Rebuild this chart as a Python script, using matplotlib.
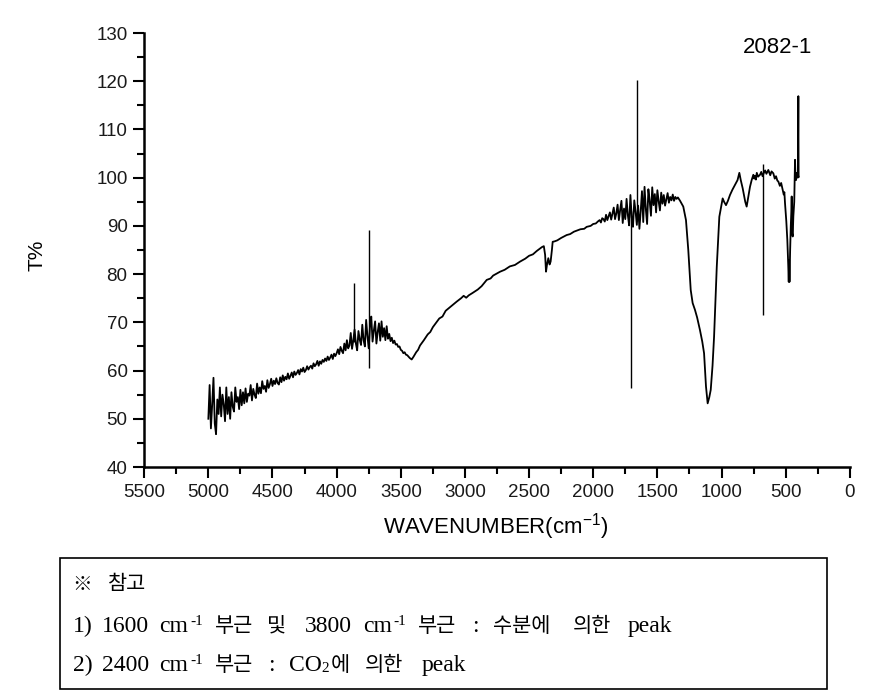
import numpy as np
import matplotlib
matplotlib.use('Agg')
import matplotlib.pyplot as plt
from matplotlib.ticker import MultipleLocator
from matplotlib.patches import Rectangle

plt.rcParams['font.family'] = ['Liberation Sans', 'DejaVu Sans']
plt.rcParams['mathtext.fontset'] = 'custom'
plt.rcParams['mathtext.rm'] = 'Liberation Sans'
plt.rcParams['mathtext.it'] = 'Liberation Sans:italic'
plt.rcParams['mathtext.bf'] = 'Liberation Sans:bold'

# ---------------- data ----------------
# noisy part 5000 -> 3460 cm-1, sampled every 10 cm-1
segA_start, segA_stop, segA_step = 5000, 3455, -10
segA_T = [
    50, 57, 48, 53, 58.5, 49, 46.8, 54, 51, 56.5,
    50.5, 55, 53, 49.5, 56.5, 51, 54.5, 50, 55.5, 52.5,
    51.5, 56.5, 53.5, 54.5, 52, 56, 52.8, 55.5, 53.2, 56.3,
    53.5, 55.2, 54.8, 57, 53.8, 56.2, 55, 54.3, 57.3, 55.2,
    56.5, 55.3, 57.8, 56.2, 56.8, 55.6, 58, 56.4, 57.2, 58.3,
    56.8, 57.9, 57.2, 58.4, 57.4, 57.1, 58.6, 57.6, 59, 57.9,
    58.7, 58.2, 59.4, 58.3, 58.9, 59.6, 58.6, 59.8, 59.1, 59.5,
    60.1, 59.2, 60.3, 59.8, 60.6, 59.7, 60.1, 60.9, 60.2, 60.7,
    61, 60.4, 61.5, 60.9, 61.3, 62, 61, 61.9, 61.4, 62.2,
    61.8, 62.5, 62, 62.9, 62.2, 62.7, 63.3, 62.4, 63.5, 63,
    63.6, 64.4, 63.4, 64.9, 64.1, 63.6, 65.6, 64.2, 66.3, 64.6,
    65.2, 67.8, 64.5, 66.3, 68.5, 65.6, 64.2, 68.2, 66.4, 65.3,
    69.5, 66.3, 65, 70.5, 67.2, 64.6, 69.2, 71.2, 66, 68.3,
    70.2, 65.6, 68, 69.8, 66.2, 70.2, 67, 68.8, 66.3, 69.2,
    66.6, 67.6, 66.1, 66.8, 65.7, 66.2, 65.4, 65.5, 64.9, 65,
    64.3, 64.1, 63.6, 63.8, 63.3,
]

# smooth part 3450 -> 1960 cm-1
segB_wn = [3450, 3430, 3415, 3400, 3380, 3365, 3350, 3320, 3290, 3270, 3250,
           3200, 3175, 3150, 3100, 3064, 3030, 3010, 2990, 2970, 2940, 2900,
           2870, 2830, 2800, 2780, 2726, 2690, 2650, 2610, 2570, 2530, 2500,
           2470, 2440, 2400, 2385, 2375, 2368, 2360, 2350, 2340, 2332, 2322,
           2316, 2300, 2280, 2250, 2207, 2180, 2150, 2100, 2070, 2051, 2020,
           2000, 1980, 1960]
segB_T = [63.2, 62.6, 62.3, 62.9, 63.8, 64.3, 65.2, 66.3, 67.5, 68.0, 69.0,
          70.8, 71.2, 72.4, 73.5, 74.3, 75.0, 75.5, 75.1, 75.6, 76.1, 76.8,
          77.5, 78.8, 79.1, 79.7, 80.5, 80.9, 81.6, 81.9, 82.6, 83.2, 83.8,
          84.1, 84.8, 85.6, 85.8, 84.0, 80.5, 82.0, 83.3, 82.0, 82.6, 85.0,
          86.7, 86.8, 87.0, 87.5, 88.1, 88.3, 88.8, 89.3, 89.4, 89.8, 90.0,
          90.4, 90.5, 91.0]

# noisy part 1950 -> 1330 cm-1, sampled every 10 cm-1
segC_start, segC_stop, segC_step = 1950, 1325, -10
segC_T = [
    91.2, 90.7, 91.6, 91.4, 90.9, 92.3, 91.2, 92.0, 92.8, 91.3,
    92.5, 93.8, 91.4, 92.6, 94.4, 91.2, 93.3, 95.2, 90.6, 93.6,
    91.4, 95.6, 92.2, 90.1, 96.4, 91.8, 89.8, 95.3, 93.0, 90.2,
    94.2, 89.4, 93.0, 97.2, 90.8, 98.1, 93.5, 90.4, 97.6, 95.2,
    92.1, 98.0, 94.3, 96.6, 92.8, 97.4, 95.1, 93.2, 96.9, 94.6,
    96.4, 94.2, 95.5, 96.8, 94.8, 96.0, 95.3, 96.5, 95.2, 96.0,
    95.6, 95.9, 95.5,
]

# fingerprint part 1323 -> 397 cm-1
segD_wn = [1323, 1298, 1277, 1259, 1240, 1225, 1207, 1190, 1168, 1150, 1136,
           1121, 1108, 1095, 1084, 1070, 1058, 1037, 1017, 991, 980, 965, 950,
           934, 915, 895, 875, 861, 850, 835, 815, 804, 790, 778, 765, 752,
           745, 740, 732, 725, 715, 700, 690, 680, 670, 660, 650, 635, 620,
           610, 596, 585, 575, 565, 557, 545, 535, 523, 515, 510, 505, 495,
           487, 480, 476, 473, 470, 465, 460, 455, 453, 449, 445, 440, 433,
           427, 423, 419, 412, 405, 401, 399, 397]
segD_T = [95.2, 94.0, 91.2, 85.0, 76.7, 74.0, 72.6, 71.0, 68.4, 66.0, 63.6,
          56.7, 53.2, 54.5, 56.0, 61.0, 67.0, 81.5, 91.9, 95.7, 95.0, 94.3, 95.2,
          96.4, 97.5, 98.5, 99.5, 101.0, 99.5, 97.8, 95.0, 94.0, 96.2, 98.1, 99.5, 100.6,
          99.8, 100.4, 99.6, 101.0, 100.2, 100.6, 101.2, 100.3, 101.0, 101.5, 100.8, 101.6, 100.5,
          101.3, 100.9, 99.8, 100.3, 99.4, 99.2, 98.3, 98.9, 97.4, 96.5, 97.0, 94.7, 91.0,
          87.1, 82.0, 78.4, 82.9, 78.4, 85.0, 90.0, 93.5, 96.1, 88.5, 87.8, 92.0, 95.0,
          103.7, 99.5, 99.5, 101.0, 100.0, 116.9, 100.5, 100.2]

# sharp single-point spikes (water / artefact lines)
spike_wn = [3862, 3750, 1703, 1656, 674]
spike_lo = [66.0, 60.5, 56.4, 91.0, 71.5]
spike_hi = [78.1, 89.2, 93.0, 120.3, 102.8]

x_ticks = [5500, 5000, 4500, 4000, 3500, 3000, 2500, 2000, 1500, 1000, 500, 0]
y_ticks = [40, 50, 60, 70, 80, 90, 100, 110, 120, 130]

# ---------------- figure ----------------
W, H = 879, 698
fig = plt.figure(figsize=(W / 100, H / 100), dpi=100)
ax = fig.add_axes([144.2 / W, 1 - 467 / H, 705.6 / W, 434 / H])

wn = np.concatenate([np.arange(segA_start, segA_stop, segA_step), segB_wn,
                     np.arange(segC_start, segC_stop, segC_step), segD_wn])
T = np.concatenate([segA_T, segB_T, segC_T, segD_T])
ax.plot(wn, T, color='black', lw=1.3)
ax.vlines(spike_wn, spike_lo, spike_hi, color='black', lw=1.0)

ax.set_xlim(5500, 0)
ax.set_ylim(40, 130)
ax.set_xticks(x_ticks)
ax.set_yticks(y_ticks)
ax.xaxis.set_minor_locator(MultipleLocator(250))
ax.yaxis.set_minor_locator(MultipleLocator(5))
for s in ['top', 'right']:
    ax.spines[s].set_visible(False)
for s in ['left', 'bottom']:
    ax.spines[s].set_linewidth(1.8)
ax.tick_params(which='major', direction='out', length=8, width=1.5,
               labelsize=13.5, labelcolor='#1a1a1a', pad=4)
ax.tick_params(which='minor', direction='out', length=5, width=1.5)

ax.set_xlabel('WAVENUMBER(cm$^{-1}$)', fontsize=16, va='baseline')
ax.xaxis.set_label_coords((496 - 144.2) / 705.6, (467 - 533) / 434)
ax.set_ylabel('T%', fontsize=15, va='center', ha='center')
ax.yaxis.set_label_coords((37.5 - 144.2) / 705.6, (467 - 255) / 434)

ax.text((743.3 - 144.2) / 705.6, (467 - 52.7) / 434, '2082-1', transform=ax.transAxes,
        fontsize=16, ha='left', va='baseline')

# ---------------- note box ----------------
fig.patches.append(Rectangle((60 / W, 1 - 689 / H), 767 / W, 131 / H,
                             transform=fig.transFigure, fill=False,
                             edgecolor='black', lw=1.2))

SERIF = ['Liberation Serif', 'Noto Sans CJK KR', 'DejaVu Sans']
KR = ['Noto Sans CJK KR', 'Liberation Serif', 'DejaVu Sans']


def put(px, py, s, size=17, fam=SERIF):
    fig.text(px / W, 1 - py / H, s, ha='left', va='baseline',
             fontsize=size, family=fam, color='black')


# line 1
put(72.7, 590, '※', 14, KR)
put(108, 590, '참고', 15, KR)

# line 2
b2 = 631.7
put(72.7, b2, '1)')
put(101.7, b2, '1600')
put(159, b2, 'cm')
put(190, b2 - 6.5, '-1', 11)
put(215, b2, '부근', 15, KR)
put(267, b2, '및', 15, KR)
put(305, b2, '3800')
put(363, b2, 'cm')
put(393.5, b2 - 6.5, '-1', 11)
put(418, b2, '부근', 15, KR)
put(472, b2, ':')
put(493, b2, '수분에', 15, KR)
put(573, b2, '의한', 15, KR)
put(628, b2, 'peak')

# line 3
b3 = 670.7
put(72.7, b3, '2)')
put(101.7, b3, '2400')
put(159, b3, 'cm')
put(190, b3 - 6.5, '-1', 11)
put(215, b3, '부근', 15, KR)
put(268, b3, ':')
put(289, b3, 'CO')
put(321, b3 + 1.5, '2', 11)
put(330.5, b3, '에', 15, KR)
put(365, b3, '의한', 15, KR)
put(422, b3, 'peak')

fig.savefig('out.png', dpi=100, facecolor='white')
